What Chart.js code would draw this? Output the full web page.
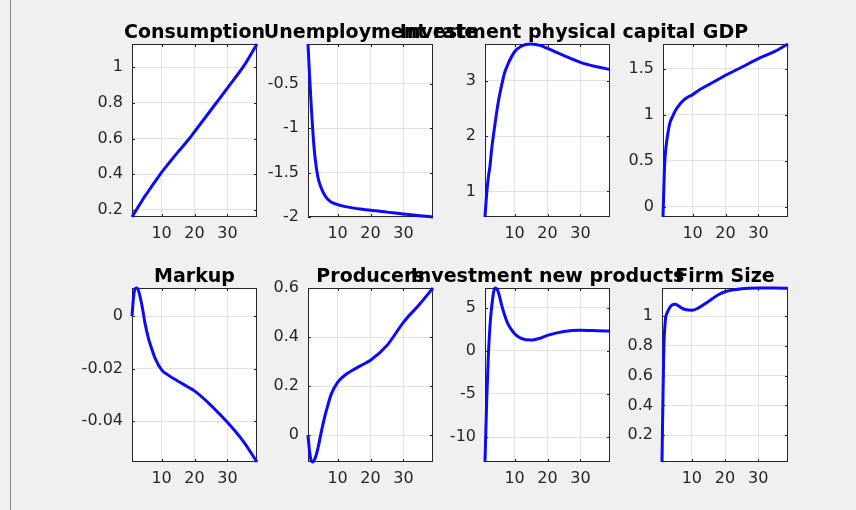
<!DOCTYPE html>
<html>
<head>
<meta charset="utf-8">
<title>Impulse responses</title>
<script src="https://cdn.jsdelivr.net/npm/chart.js@4.4.1/dist/chart.umd.min.js"></script>
<style>
  html, body { margin: 0; padding: 0; }
  body { width: 856px; height: 510px; background: #f0f0f0; position: relative; overflow: hidden; }
  #frame { position: absolute; left: 10px; top: 0; height: 510px; border-left: 1px solid #8a8a8a; }
  canvas { position: absolute; }
</style>
</head>
<body>
<div id="frame"></div>
<script>
// periods after the shock (x axis)
const periods = [1, 1.5, 2, 2.5, 3, 4, 5, 6, 7, 8, 10, 12, 15, 18, 20, 25, 30, 35, 39];
const periodTicks = [10, 20, 30];

// responses
const consumption  = [0.16, 0.175, 0.19, 0.205, 0.22, 0.25, 0.278, 0.305, 0.332, 0.358, 0.41, 0.457, 0.525, 0.59, 0.638, 0.76, 0.883, 1.007, 1.13];
const unemployment = [-0.05, -0.42, -0.76, -1.05, -1.28, -1.55, -1.67, -1.75, -1.8, -1.83, -1.86, -1.88, -1.9, -1.915, -1.925, -1.945, -1.965, -1.985, -2.0];
const invPhysical  = [0.54, 0.95, 1.25, 1.45, 1.75, 2.2, 2.6, 2.9, 3.15, 3.3, 3.52, 3.62, 3.66, 3.63, 3.58, 3.45, 3.33, 3.25, 3.2];
const gdp          = [-0.11, 0.46, 0.68, 0.8, 0.9, 0.99, 1.06, 1.11, 1.15, 1.18, 1.22, 1.27, 1.33, 1.39, 1.43, 1.52, 1.61, 1.69, 1.77];
const markup       = [0, 0.0075, 0.0105, 0.0107, 0.0095, 0.0042, -0.003, -0.0085, -0.0125, -0.016, -0.0205, -0.0225, -0.0248, -0.027, -0.0285, -0.034, -0.0405, -0.048, -0.0556];
const producers    = [0, -0.07, -0.105, -0.11, -0.1, -0.055, 0.01, 0.07, 0.12, 0.165, 0.215, 0.242, 0.268, 0.29, 0.305, 0.365, 0.46, 0.535, 0.6];
const invNew       = [-12.9, -6, -0.7, 2.8, 5.0, 7.3, 6.9, 5.4, 4.1, 3.1, 2.0, 1.45, 1.25, 1.5, 1.8, 2.25, 2.4, 2.35, 2.3];
const firmSize     = [0.02, 0.74, 0.97, 1.02, 1.045, 1.075, 1.08, 1.07, 1.055, 1.045, 1.04, 1.056, 1.1, 1.145, 1.165, 1.185, 1.19, 1.19, 1.188];

// y tick labels of each panel
const consumptionTicks  = [0.2, 0.4, 0.6, 0.8, 1];
const unemploymentTicks = [-2, -1.5, -1, -0.5];
const invPhysicalTicks  = [1, 2, 3];
const gdpTicks          = [0, 0.5, 1, 1.5];
const markupTicks       = [-0.04, -0.02, 0];
const producersTicks    = [0, 0.2, 0.4, 0.6];
const invNewTicks       = [-10, -5, 0, 5];
const firmSizeTicks     = [0.2, 0.4, 0.6, 0.8, 1];

const titles = ['Consumption', 'Unemployment rate', 'Investment physical capital', 'GDP',
                'Markup', 'Producers', 'Investment new products', 'Firm Size'];
const series = [consumption, unemployment, invPhysical, gdp, markup, producers, invNew, firmSize];
const yTicks = [consumptionTicks, unemploymentTicks, invPhysicalTicks, gdpTicks,
                markupTicks, producersTicks, invNewTicks, firmSizeTicks];

// where each axes box sits on the page (plot area)
const boxes = [
  { left: 132, top: 44, w: 125, h: 173 },
  { left: 308, top: 44, w: 125, h: 173 },
  { left: 485, top: 44, w: 125, h: 173 },
  { left: 663, top: 44, w: 125, h: 173 },
  { left: 132, top: 288, w: 125, h: 174 },
  { left: 308, top: 288, w: 125, h: 174 },
  { left: 485, top: 288, w: 125, h: 174 },
  { left: 662, top: 288, w: 126, h: 174 }
];

const SIDE = 100, TOP = 45, BOTTOM = 35, YAXIS = 60;

// white axes background, dark box with inner ticks, and the bold title
const axesBox = {
  id: 'axesBox',
  beforeDraw(chart) {
    const a = chart.chartArea, ctx = chart.ctx;
    ctx.save();
    ctx.fillStyle = '#ffffff';
    ctx.fillRect(a.left, a.top, a.right - a.left, a.bottom - a.top);
    ctx.restore();
  },
  beforeDatasetsDraw(chart) {
    const a = chart.chartArea, ctx = chart.ctx;
    const xs = chart.scales.x, ys = chart.scales.y;
    ctx.save();
    ctx.strokeStyle = '#262626';
    ctx.lineWidth = 1;
    ctx.strokeRect(a.left + 0.5, a.top + 0.5, a.right - a.left - 1, a.bottom - a.top - 1);
    ctx.beginPath();
    xs.ticks.forEach(t => {
      const px = Math.round(xs.getPixelForValue(t.value)) + 0.5;
      ctx.moveTo(px, a.bottom); ctx.lineTo(px, a.bottom - 3);
      ctx.moveTo(px, a.top); ctx.lineTo(px, a.top + 3);
    });
    ys.ticks.forEach(t => {
      const py = Math.round(ys.getPixelForValue(t.value)) + 0.5;
      ctx.moveTo(a.left, py); ctx.lineTo(a.left + 3, py);
      ctx.moveTo(a.right, py); ctx.lineTo(a.right - 3, py);
    });
    ctx.stroke();
    ctx.restore();
  },
  afterDraw(chart, args, opts) {
    const a = chart.chartArea, ctx = chart.ctx;
    ctx.save();
    ctx.font = 'bold 19px "DejaVu Sans"';
    ctx.fillStyle = '#000000';
    ctx.textAlign = 'center';
    ctx.textBaseline = 'alphabetic';
    ctx.fillText(opts.title, (a.left + a.right) / 2, a.top - 6);
    ctx.restore();
  }
};

const tickFont = { family: 'DejaVu Sans', size: 16 };

series.forEach(function (values, i) {
  const b = boxes[i];
  const canvas = document.createElement('canvas');
  canvas.width = b.w + 2 * SIDE;
  canvas.height = b.h + TOP + BOTTOM;
  canvas.style.left = (b.left - SIDE) + 'px';
  canvas.style.top = (b.top - TOP) + 'px';
  document.body.appendChild(canvas);

  const points = periods.map((p, k) => ({ x: p, y: values[k] }));
  const ticksY = yTicks[i];

  new Chart(canvas.getContext('2d'), {
    type: 'line',
    data: {
      datasets: [{
        data: points,
        borderColor: '#0a0aff',
        borderWidth: 3,
        pointRadius: 0,
        fill: false,
        cubicInterpolationMode: 'monotone',
        clip: 2
      }]
    },
    options: {
      responsive: false,
      animation: false,
      devicePixelRatio: 1,
      layout: { padding: { left: SIDE - YAXIS, right: SIDE, top: TOP, bottom: 0 } },
      plugins: {
        legend: { display: false },
        tooltip: { enabled: false },
        axesBox: { title: titles[i] }
      },
      scales: {
        x: {
          type: 'linear',
          min: periods[0],
          max: periods[periods.length - 1],
          afterBuildTicks: s => { s.ticks = periodTicks.map(v => ({ value: v })); },
          afterFit: s => { s.height = BOTTOM; },
          grid: { color: '#e2e2e2', drawTicks: false },
          border: { display: false },
          ticks: { font: tickFont, color: '#262626', padding: 7, maxRotation: 0, autoSkip: false,
                   callback: v => String(v) }
        },
        y: {
          type: 'linear',
          min: Math.min(...values),
          max: Math.max(...values),
          afterBuildTicks: s => { s.ticks = ticksY.map(v => ({ value: v })); },
          afterFit: s => { s.width = YAXIS; },
          grid: { color: '#e2e2e2', drawTicks: false },
          border: { display: false },
          ticks: { font: tickFont, color: '#262626', padding: 9, autoSkip: false,
                   callback: v => String(v) }
        }
      }
    },
    plugins: [axesBox]
  });
});
</script>
</body>
</html>
